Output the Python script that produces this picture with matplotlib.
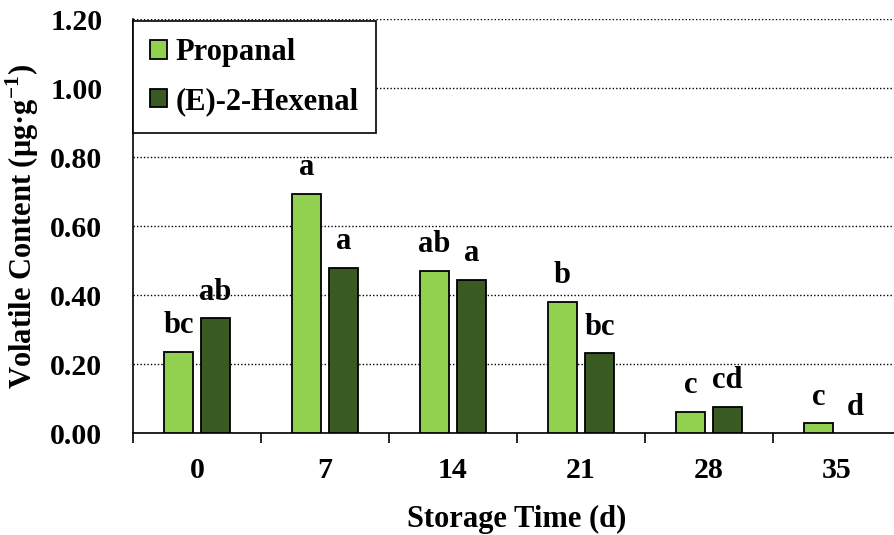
import matplotlib

matplotlib.use("Agg")
import matplotlib.pyplot as plt
import numpy as np

plt.rcParams["font.family"] = ["Liberation Serif", "DejaVu Serif"]
plt.rcParams["font.weight"] = "bold"
plt.rcParams["mathtext.fontset"] = "custom"
plt.rcParams["mathtext.rm"] = "Liberation Serif:bold"
plt.rcParams["mathtext.bf"] = "Liberation Serif:bold"

days = ["0", "7", "14", "21", "28", "35"]
propanal = [0.236, 0.694, 0.470, 0.381, 0.063, 0.029]
hexenal = [0.333, 0.479, 0.444, 0.232, 0.076, 0.0]
propanal_sig = ["bc", "a", "ab", "b", "c", "c"]
hexenal_sig = ["ab", "a", "a", "bc", "cd", "d"]
yticks = [0.0, 0.2, 0.4, 0.6, 0.8, 1.0, 1.2]

light = "#92D050"
dark = "#3A5A24"

fig = plt.figure(figsize=(8.95, 5.35), dpi=100)
ax = fig.add_axes([133 / 895, 101.7 / 535, 768 / 895, 414 / 535])

x = np.arange(len(days))
w = 0.225
off = 0.145
b1 = ax.bar(x - off, propanal, w, color=light, edgecolor="black", linewidth=1.3,
            label="Propanal", zorder=3)
b2 = ax.bar(x + off, hexenal, w, color=dark, edgecolor="black", linewidth=1.3,
            label="(E)-2-Hexenal", zorder=3)
# no bar drawn for a zero value
b2[-1].set_visible(False)

for xi, v, s in zip(x - off, propanal, propanal_sig):
    ax.annotate(s, (xi, v), xytext=(0, 13.5), textcoords="offset points",
                ha="center", va="baseline", fontsize=22, fontweight="bold")
for xi, v, s in zip(x + off, hexenal, hexenal_sig):
    ax.annotate(s, (xi, v), xytext=(0, 13.5), textcoords="offset points",
                ha="center", va="baseline", fontsize=22, fontweight="bold")

ax.set_xlim(-0.5, len(days) - 0.5)
ax.set_ylim(0, 1.2)
ax.set_yticks(yticks)
ax.set_yticklabels([f"{t:.2f}" for t in yticks], fontsize=21.5, fontweight="bold")
ax.tick_params(axis="y", length=0, pad=22)

ax.set_xticks(x)
ax.set_xticklabels(days, fontsize=21.5, fontweight="bold")
ax.set_xticks(np.arange(len(days) + 1) - 0.5, minor=True)
ax.tick_params(axis="x", which="major", length=0, pad=17)
ax.tick_params(axis="x", which="minor", length=7, width=1.2, direction="out")

ax.yaxis.grid(True, linestyle=(0, (1, 1.5)), color="black", linewidth=1.0, zorder=0)
ax.set_axisbelow(True)
for side in ["top", "right"]:
    ax.spines[side].set_visible(False)
ax.spines["left"].set_linewidth(1.2)
ax.spines["bottom"].set_linewidth(1.2)

ax.set_xlabel("Storage Time (d)", fontsize=22, fontweight="bold", labelpad=15)
ax.set_ylabel(r"Volatile Content (μg·g$^{-1}$)", fontsize=22, fontweight="bold",
              va="center")
ax.yaxis.set_label_coords(-111 / 768, 0.5)

leg = ax.legend(loc="upper left", bbox_to_anchor=(0, 0.995), borderaxespad=0,
                prop={"weight": "bold", "size": 22}, fancybox=False,
                framealpha=1, edgecolor="black", handlelength=0.55,
                handleheight=0.55, handletextpad=0.3, labelspacing=0.65,
                borderpad=0.55)
leg.get_frame().set_linewidth(1.2)
leg.set_zorder(5)

fig.savefig("out.png", dpi=100)
